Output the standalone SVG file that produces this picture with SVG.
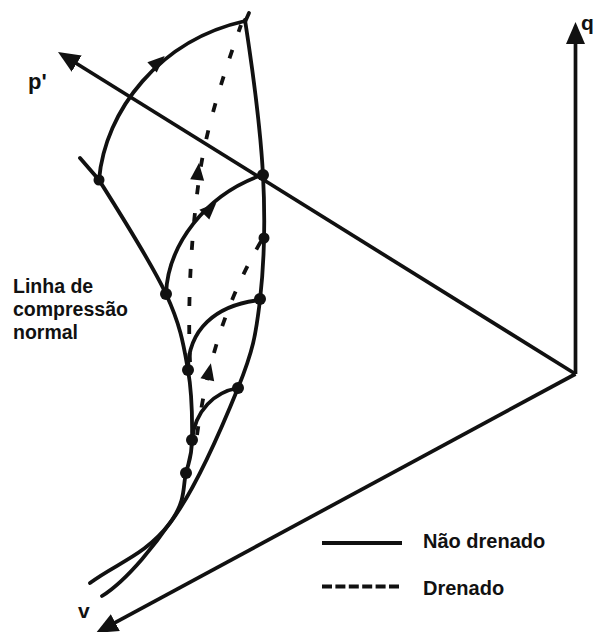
<svg xmlns="http://www.w3.org/2000/svg" xmlns:xlink="http://www.w3.org/1999/xlink" width="601" height="632" viewBox="0 0 601 632">
<style>
.ax{fill:none;stroke:#111;stroke-width:3.7}
.cv{fill:none;stroke:#111;stroke-width:3.8;stroke-linecap:round}
.ds{fill:none;stroke:#111;stroke-width:3.8;stroke-dasharray:9 19}
.dot{fill:#111}
.ah{fill:#111}
text{font-family:"Liberation Sans",Arial,sans-serif;font-weight:bold;fill:#111}
</style>
<defs>
<marker id="arr" markerUnits="userSpaceOnUse" markerWidth="24" markerHeight="22" viewBox="0 -11 24 22" refX="14" refY="0" orient="auto">
<path d="M0,-9.5 L22,0 L0,9.5 Z" fill="#111"/>
</marker>
<path id="head" d="M9,0 L-8,-7 L-8,7 Z"/>
</defs>
<rect width="601" height="632" fill="#fff"/>
<g id="axes">
<line class="ax" x1="575.5" y1="374" x2="575.5" y2="30" marker-end="url(#arr)"/>
<line class="ax" x1="575.5" y1="374" x2="64.8" y2="56.2" marker-end="url(#arr)"/>
<line class="ax" x1="575.5" y1="374" x2="103" y2="629.2" marker-end="url(#arr)"/>
</g>
<g id="connectors">
<path id="top-arc" class="cv" d="M99,180 C105,110 160,40 245,21"/>
<path id="boundary" class="cv" d="M245,20 C253,72 260.5,128 263,175 C265.5,222 264,264.5 260,300 C255.8,335.5 253,350.8 238,388 C223,425 194.7,490.5 170,523 C145.3,555.5 116.7,563 90,583"/>
<path id="tick-top" class="cv" d="M245,22 L249,13"/>
<path id="ncl" class="cv" d="M80,158 L99,180 C113.3,202.7 151.2,262.3 166,294 C180.8,325.7 183.7,345.7 188,370 C192.3,394.3 192.3,422.8 192,440 C191.7,457.2 189.3,459.7 186,473 C182.7,486.3 186,499.5 172,520 C158,540.5 128.7,579.3 102,596"/>
<path id="arc2" class="cv" d="M166,294 C168,245 205,195 262,175"/>
<path id="arc3" class="cv" d="M188,370 C188,330 215,305 260,300"/>
<path id="arc4" class="cv" d="M192,440 C195,410 215,392 238,388"/>
<path id="drained1" class="ds" d="M190,362 C187,290 193,220 200,172 C207,125 225,70 241,25"/>
<path id="drained2" class="ds" d="M197,435 C205,380 220,310 263,238"/>
<use href="#head" class="ah" transform="translate(158,62) rotate(-42)"/>
<use href="#head" class="ah" transform="translate(210,209) rotate(-45)"/>
<use href="#head" class="ah" transform="translate(198,172) rotate(-84)"/>
<use href="#head" class="ah" transform="translate(209,372) rotate(-78)"/>
</g>
<g id="points">
<circle class="dot" cx="99" cy="180" r="5.5"/>
<circle class="dot" cx="166" cy="294" r="6"/>
<circle class="dot" cx="188" cy="370" r="6"/>
<circle class="dot" cx="192" cy="440" r="6"/>
<circle class="dot" cx="186" cy="473" r="6"/>
<circle class="dot" cx="263" cy="175" r="6"/>
<circle class="dot" cx="264" cy="238" r="5.5"/>
<circle class="dot" cx="260" cy="299" r="6"/>
<circle class="dot" cx="238" cy="388" r="6"/>
</g>
<g id="labels">
<text x="581" y="30" font-size="21">q</text>
<text x="28" y="89" font-size="22">p'</text>
<text x="78" y="618" font-size="21">v</text>
<text font-size="19.5"><tspan x="13" y="293">Linha de</tspan><tspan x="13" y="316">compressão</tspan><tspan x="13" y="339">normal</tspan></text>
</g>
<g id="legend">
<line class="ax" x1="322" y1="543" x2="402" y2="543" style="stroke-width:4"/>
<line class="ax" x1="322" y1="586.5" x2="402" y2="586.5" style="stroke-width:4;stroke-dasharray:10 3.4"/>
<text x="423" y="548" font-size="20">Não drenado</text>
<text x="423" y="595" font-size="20">Drenado</text>
</g>
</svg>
